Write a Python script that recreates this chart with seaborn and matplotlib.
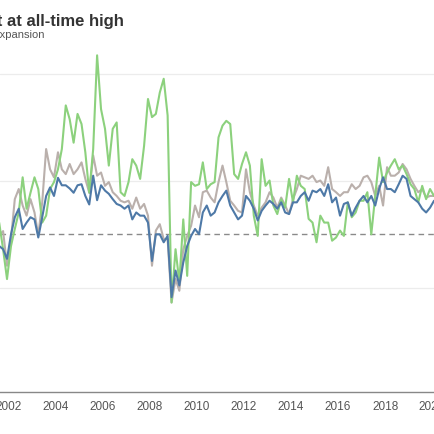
import pandas as pd
import matplotlib.pyplot as plt
import seaborn as sns

# Bi-monthly readings, Aug 2001 - Feb 2020
dates = pd.date_range("2001-08-01", periods=112, freq="2MS")

blue_vals = [48.9, 48.6, 47.7, 50.0, 51.6, 52.4, 50.5, 51.1, 51.6, 51.4, 49.7, 51.6, 53.6, 54.4, 53.6,
             55.3, 54.6, 54.6, 54.3, 53.9, 54.6, 54.7, 53.6, 52.8, 55.5, 53.2, 54.6, 54.1, 53.8,
             53.3, 52.85, 52.7, 52.4, 52.7, 51.4, 52.05, 51.75, 51.75, 51.1, 47.5, 50.0, 50.0, 49.25,
             49.85, 44.1, 46.6, 45.2, 47.35, 48.9, 49.85, 50.5, 50.0, 52.05, 52.7, 51.75,
             52.05, 53.0, 53.6, 54.1, 52.7, 52.05, 51.4, 51.75, 53.6, 53.15, 52.4, 51.3, 52.2, 52.7,
             53.15, 52.85, 52.4, 53.0, 52.05, 51.9, 53.0, 53.0, 53.6, 53.95, 53.15, 54.1, 53.95,
             54.25, 53.6, 54.7, 53.0, 53.45, 51.75, 52.85, 53.0, 51.75, 52.5, 53.15, 53.6, 53.0, 53.6,
             52.7, 54.25, 55.35, 54.25, 54.25, 53.95, 54.7, 55.5, 55.2, 53.6, 53.3, 53.0, 52.4, 52.05,
             52.5, 53.15]

gray_vals = [49.9, 50.3, 47.05, 49.55, 53.3, 54.25, 52.7, 51.75, 53.3, 52.05, 49.9, 53.0, 58.0, 56.1,
             55.35, 57.7, 56.1, 55.65, 56.6, 55.65, 56.1, 56.75, 55.2, 53.9, 57.4, 55.5, 55.8, 54.55, 54.9,
             53.95, 53.6, 53.15, 53.0, 53.15, 52.4, 53.45, 52.4, 52.85, 51.75, 47.05, 50.35, 50.95, 49.55,
             49.55, 43.6, 45.8, 44.7, 48.6, 49.85, 50.8, 52.7, 51.6, 53.95, 54.1, 53.45,
             53.0, 54.9, 56.45, 54.9, 53.15, 52.7, 52.2, 52.05, 56.1, 53.95, 52.7, 51.75, 52.5, 53.0,
             53.95, 53.45, 52.5, 53.45, 52.7, 51.9, 53.3, 54.25, 55.5, 55.35, 55.2, 55.5, 54.9,
             55.05, 54.55, 56.3, 54.25, 53.95, 53.6, 53.95, 53.95, 54.7, 54.25, 54.55, 55.35, 55.5, 54.9,
             53.6, 54.55, 52.7, 56.3, 55.5, 55.5, 55.8, 56.6, 56.1, 55.2, 54.55, 53.95, 54.25, 53.45,
             53.6, 53.6]

green_vals = [51.1, 48.6, 45.8, 48.9, 50.5, 52.05, 55.35, 52.4, 53.9, 55.35, 54.25, 51.1, 51.75, 54.25,
              54.9, 56.1, 58.0, 62.1, 60.8, 58.6, 61.3, 60.35, 57.7, 53.9, 58.0, 66.8, 61.75, 59.9, 56.45,
              59.9, 60.5, 53.95, 53.6, 54.9, 57.05, 56.45, 55.2, 58.3, 62.7, 61.0, 61.3, 63.3, 64.6,
              61.15, 43.6, 48.6, 45.5, 51.4, 46.1, 54.9, 54.55, 54.7, 56.75, 54.25, 54.7,
              54.9, 59.1, 60.2, 60.65, 60.35, 55.65, 55.2, 56.6, 57.7, 56.45, 51.75, 49.85, 57.05, 54.55,
              55.05, 52.7, 51.9, 53.3, 52.5, 55.2, 53.0, 55.5, 54.55, 54.25, 51.45, 51.1, 49.25,
              51.75, 51.1, 51.1, 49.4, 49.7, 50.35, 49.85, 53.0, 51.6, 52.05, 53.15, 53.15, 53.95, 50.0,
              53.6, 57.2, 54.9, 55.8, 56.45, 57.05, 56.1, 56.45, 55.65, 54.7, 54.25, 53.0, 54.55, 53.3,
              54.25, 53.6]

series_colors = {"Services": "#bab0ac", "Manufacturing": "#8cd17d", "Composite": "#4e79a7"}
tick_years = list(range(2002, 2022, 2))

df = pd.concat([
    pd.DataFrame({"date": dates, "value": gray_vals, "series": "Services"}),
    pd.DataFrame({"date": dates, "value": green_vals, "series": "Manufacturing"}),
    pd.DataFrame({"date": dates, "value": blue_vals, "series": "Composite"}),
], ignore_index=True)

sns.set_style("white")
plt.rcParams["font.family"] = ["Liberation Sans", "DejaVu Sans"]

fig = plt.figure(figsize=(4.35, 4.35), dpi=100)
ax = fig.add_axes([0, 0.0966, 1, 0.807])

ax.axhline(50, color="#8a8a8a", lw=1, ls=(0, (4, 3)), zorder=1)
sns.lineplot(data=df, x="date", y="value", hue="series", palette=series_colors,
             hue_order=["Services", "Manufacturing", "Composite"], lw=1.5, legend=False, ax=ax, zorder=3)

ax.set_xlim(pd.Timestamp("2001-08-14"), pd.Timestamp("2020-02-16"))
ax.set_ylim(35.2, 68.15)
ax.set_yticks([45, 55, 65])
ax.set_yticklabels([])
ax.grid(axis="y", color="#ececec", lw=0.9)
ax.set_xticks([pd.Timestamp(f"{y}-01-01") for y in tick_years])
ax.set_xticklabels([str(y) for y in tick_years], color="#555555", fontsize=8.5)
ax.tick_params(axis="x", length=3, color="#888888", pad=2.5)
ax.tick_params(axis="y", length=0)
ax.set_xlabel("")
ax.set_ylabel("")
for s in ["top", "right", "left"]:
    ax.spines[s].set_visible(False)
ax.spines["bottom"].set_color("#888888")
ax.spines["bottom"].set_linewidth(1)

fig.text(123.5 / 435, 1 - 26 / 435, "Sentiment at all-time high", ha="right", va="baseline",
         fontsize=12, fontweight="bold", color="#333333")
fig.text(45 / 435, 1 - 37.5 / 435, "Readings above 50 indicate expansion", ha="right", va="baseline",
         fontsize=8, color="#555555")

fig.savefig("out.png", dpi=100)
